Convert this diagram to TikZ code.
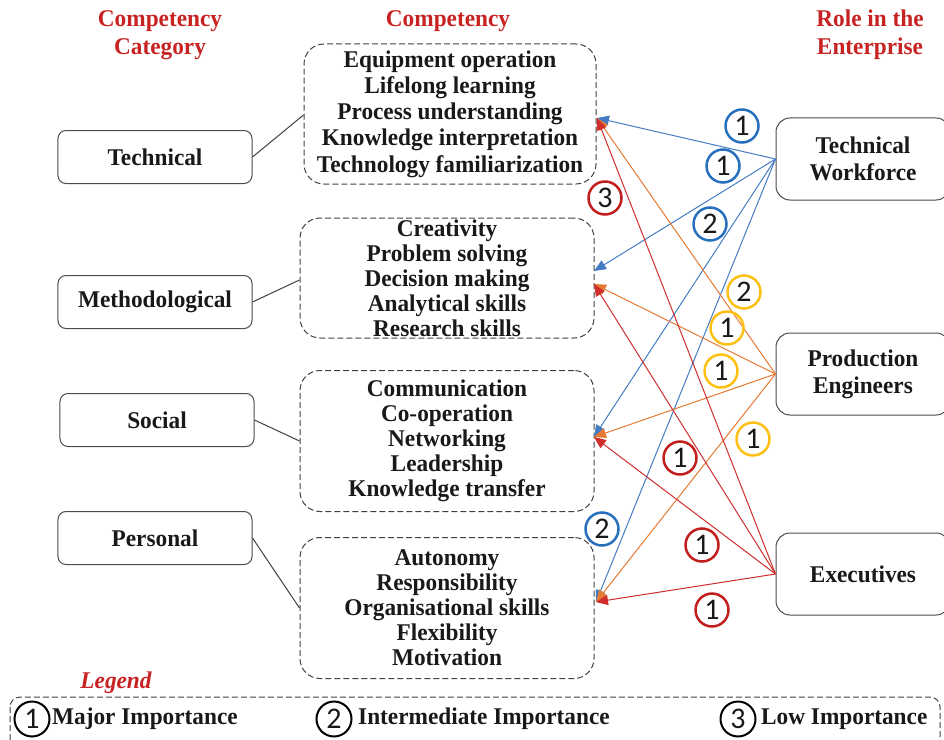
\documentclass[tikz,border=0pt]{standalone}
\usepackage{fontspec}
\setmainfont{Liberation Serif}[FakeStretch=0.97]
\newfontfamily\numfont{Carlito}
\usetikzlibrary{arrows.meta}

\definecolor{titlered}{RGB}{200,35,35}
\definecolor{wfblue}{RGB}{68,124,196}
\definecolor{peorange}{RGB}{230,122,50}
\definecolor{exred}{RGB}{208,45,45}
\definecolor{ringblue}{RGB}{40,112,190}
\definecolor{ringyellow}{RGB}{255,192,20}
\definecolor{ringred}{RGB}{195,30,30}

\newcommand{\boldtext}{\fontsize{24bp}{25bp}\selectfont\bfseries}

\begin{document}
\begin{tikzpicture}[
      x=1bp, y=-1bp,
      every node/.style={text=black!90, font=\boldtext},
      catbox/.style={draw=black!70, line width=1bp, rounded corners=8bp,
                     minimum width=194bp, minimum height=53bp},
      compbox/.style={draw=black!75, line width=1bp, dash pattern=on 6bp off 3bp,
                      rounded corners=20bp, align=center, inner sep=0pt},
      rolebox/.style={draw=black!70, line width=1bp, rounded corners=14bp,
                      minimum width=174bp, minimum height=82bp, align=center,
                      font=\fontsize{24bp}{27bp}\selectfont\bfseries},
      title/.style={text=titlered, align=center,
                    font=\fontsize{24bp}{28bp}\selectfont\bfseries},
      imp/.style={circle, draw=#1, line width=2.5bp, minimum size=33bp, inner sep=0pt,
                  font=\numfont\fontsize{30bp}{30bp}\selectfont},
      link/.style={draw=#1, line width=1bp, -{Triangle[length=12bp,width=10bp]}},
      key/.style={circle, draw=black, line width=2bp, minimum size=35bp, inner sep=0pt,
                  font=\numfont\fontsize{30bp}{30bp}\selectfont},
      keytext/.style={anchor=west, inner sep=0pt, font=\fontsize{24bp}{24bp}\selectfont\bfseries}
    ]
  \useasboundingbox (0,0) rectangle (944,740);

  % headings
  \node[title] (hcat) at (160,35) {Competency\\Category};
  \node[title] (hcomp) at (448,21) {Competency};
  \node[title] (hrole) at (870,35) {Role in the\\Enterprise};

  % competency categories
  \node[catbox] (tech) at (155,157) {Technical};
  \node[catbox] (meth) at (155,302) {Methodological};
  \node[catbox] (social) at (157,420) {Social};
  \node[catbox] (personal) at (155,538) {Personal};

  % competencies
  \node[compbox, minimum width=292bp, minimum height=140bp,
        font=\fontsize{24bp}{26.2bp}\selectfont\bfseries] (comp1) at (450,114)
    {Equipment operation\\Lifelong learning\\Process understanding\\Knowledge interpretation\\Technology familiarization};
  \node[compbox, minimum width=294bp, minimum height=120bp] (comp2) at (447,278)
    {Creativity\\Problem solving\\Decision making\\Analytical skills\\Research skills};
  \node[compbox, minimum width=294bp, minimum height=141bp] (comp3) at (447,441)
    {Communication\\Co-operation\\Networking\\Leadership\\Knowledge transfer};
  \node[compbox, minimum width=294bp, minimum height=141bp] (comp4) at (447,608)
    {Autonomy\\Responsibility\\Organisational skills\\Flexibility\\Motivation};

  \draw[black!75, line width=1bp] (tech.east) -- (comp1.west |- 0,115);
  \draw[black!75, line width=1bp] (meth.east) -- (comp2.west |- 0,280);
  \draw[black!75, line width=1bp] (social.east) -- (comp3.west |- 0,441);
  \draw[black!75, line width=1bp] (personal.east) -- (comp4.west |- 0,608);

  % roles
  \node[rolebox] (tw) at (863,159) {Technical\\Workforce};
  \node[rolebox] (pe) at (863,374) {Production\\Engineers};
  \node[rolebox] (ex) at (863,574) {Executives};

  % arrow ends
  \coordinate (in1) at (597,118);
  \coordinate (in2b) at (594,271);
  \coordinate (in2) at (594,284);
  \coordinate (in3) at (594,437);
  \coordinate (in4) at (596,602);

  \foreach \dest in {in1,in2b,in3,in4}
    \draw[link=wfblue] (tw.west) -- (\dest);
  \foreach \dest in {in1,in2,in3,in4}
    \draw[link=peorange] (pe.west) -- (\dest);
  \foreach \dest in {in1,in2,in3,in4}
    \draw[link=exred] (ex.west) -- (\dest);

  % importance marks
  \node[imp=ringblue] (b1) at (742,126) {1};
  \node[imp=ringblue] (b2) at (723,166) {1};
  \node[imp=ringblue] (b3) at (710,224) {2};
  \node[imp=ringblue] (b4) at (602,529) {2};
  \node[imp=ringyellow] (y1) at (744,292) {2};
  \node[imp=ringyellow] (y2) at (727,328) {1};
  \node[imp=ringyellow] (y3) at (721,371) {1};
  \node[imp=ringyellow] (y4) at (753,439) {1};
  \node[imp=ringred] (r1) at (605,198) {3};
  \node[imp=ringred] (r2) at (680,458) {1};
  \node[imp=ringred] (r3) at (702,545) {1};
  \node[imp=ringred] (r4) at (712,610) {1};

  % legend
  \node[text=titlered, font=\fontsize{24bp}{24bp}\selectfont\bfseries\itshape] (legend) at (116,683) {Legend};
  \draw[black!75, line width=1bp, dash pattern=on 6bp off 3bp, rounded corners=10bp]
    (10,697) rectangle (940,770);
  \node[key] (k1) at (32,719) {1};
  \node[keytext] (t1) at (52,719) {Major Importance};
  \node[key] (k2) at (334,719) {2};
  \node[keytext] (t2) at (358,719) {Intermediate Importance};
  \node[key] (k3) at (738,719) {3};
  \node[keytext] (t3) at (761,719) {Low Importance};
\end{tikzpicture}
\end{document}
